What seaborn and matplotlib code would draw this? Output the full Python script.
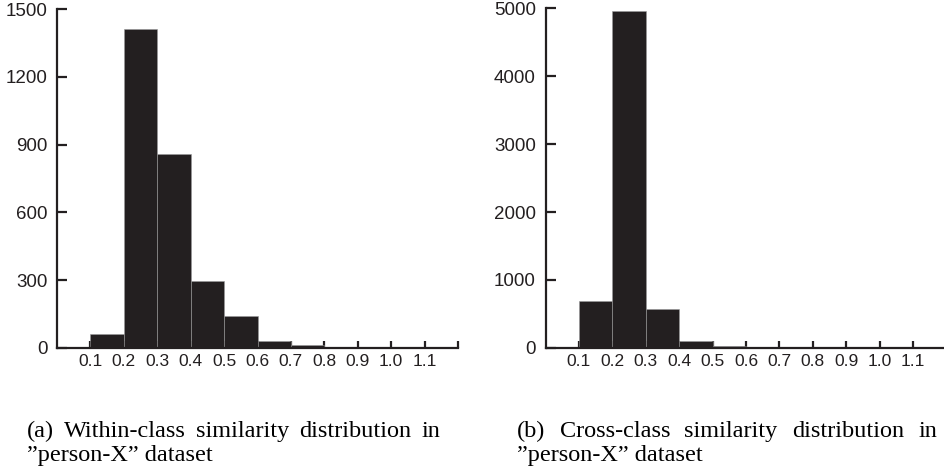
import numpy as np
import pandas as pd
import seaborn as sns
import matplotlib
matplotlib.use("Agg")
import matplotlib.pyplot as plt

# ---- data (counts per similarity bin) ----
bin_edges = [0.1, 0.2, 0.3, 0.4, 0.5, 0.6, 0.7, 0.8, 0.9]
within_counts = [60, 1413, 857, 297, 141, 30, 12, 0]
cross_counts = [696, 4960, 578, 98, 25, 12, 4, 0]
tick_values = [0.1, 0.2, 0.3, 0.4, 0.5, 0.6, 0.7, 0.8, 0.9, 1.0, 1.1, 1.2]
tick_labels = ["0.1", "0.2", "0.3", "0.4", "0.5", "0.6", "0.7", "0.8", "0.9", "1.0", "1.1", ""]
within_yticks = [0, 300, 600, 900, 1200, 1500]
cross_yticks = [0, 1000, 2000, 3000, 4000, 5000]
caption_a = ["(a)", "Within-class", "similarity", "distribution", "in"]
caption_a2 = "\u201dperson-X\u201d dataset"
caption_b = ["(b)", "Cross-class", "similarity", "distribution", "in"]
caption_b2 = "\u201dperson-X\u201d dataset"

sns.set_theme(style="white")
plt.rcParams["font.family"] = ["Liberation Sans", "DejaVu Sans"]

W, H = 944, 472
fig = plt.figure(figsize=(W / 100, H / 100), dpi=100)

INK = "#231f20"


def px_rect(x0, x1, ytop, ybot):
    return [x0 / W, 1 - ybot / H, (x1 - x0) / W, (ybot - ytop) / H]


def make_panel(rect, counts, yticks, ymax):
    ax = fig.add_axes(rect)
    centers = [(bin_edges[i] + bin_edges[i + 1]) / 2 for i in range(len(counts))]
    df = pd.DataFrame({"sim": centers, "count": counts})
    sns.histplot(data=df, x="sim", weights="count", bins=bin_edges, ax=ax,
                 color=INK, alpha=1.0, edgecolor="#9a9a9a", linewidth=0.4)
    ax.set_xlim(0, 1.2)
    ax.set_ylim(0, ymax)
    ax.set_xlabel("")
    ax.set_ylabel("")
    ax.set_xticks(tick_values)
    ax.set_xticklabels(tick_labels)
    ax.set_yticks(yticks)
    ax.set_yticklabels([str(v) for v in yticks])
    for s in ["top", "right"]:
        ax.spines[s].set_visible(False)
    for s in ["left", "bottom"]:
        ax.spines[s].set_color(INK)
        ax.spines[s].set_linewidth(1.6)
        ax.spines[s].set_zorder(5)
    ax.tick_params(axis="x", direction="in", length=5, width=1.6, color=INK,
                   labelsize=12.5, labelcolor=INK, pad=4, bottom=True)
    ax.tick_params(axis="y", direction="in", length=7, width=1.6, color=INK,
                   labelsize=13.5, labelcolor=INK, pad=7, left=True)
    ax.set_facecolor("white")
    ax.grid(False)
    return ax


make_panel(px_rect(57, 458, 9, 348), within_counts, within_yticks, 1500)
make_panel(px_rect(545.5, 946.5, 8, 348), cross_counts, cross_yticks, 5000)

# ---- captions (justified first line) ----
renderer = fig.canvas.get_renderer()
serif = ["Liberation Serif", "DejaVu Serif"]
CAP_FS = 17.5


def justified(words, x0, x1, ybase):
    texts = [fig.text(0, 0, w, fontsize=CAP_FS, family=serif, color="black",
                      va="baseline", ha="left") for w in words]
    widths = [t.get_window_extent(renderer).width for t in texts]
    gap = ((x1 - x0) - sum(widths)) / (len(words) - 1)
    x = x0
    for t, w in zip(texts, widths):
        t.set_position((x / W, 1 - ybase / H))
        x += w + gap


justified(caption_a, 27, 440, 437)
fig.text(27 / W, 1 - 461 / H, caption_a2, fontsize=CAP_FS, family=serif,
         color="black", va="baseline", ha="left")
justified(caption_b, 517, 937, 437)
fig.text(517 / W, 1 - 461 / H, caption_b2, fontsize=CAP_FS, family=serif,
         color="black", va="baseline", ha="left")

fig.savefig("out.png", dpi=100, facecolor="white")
